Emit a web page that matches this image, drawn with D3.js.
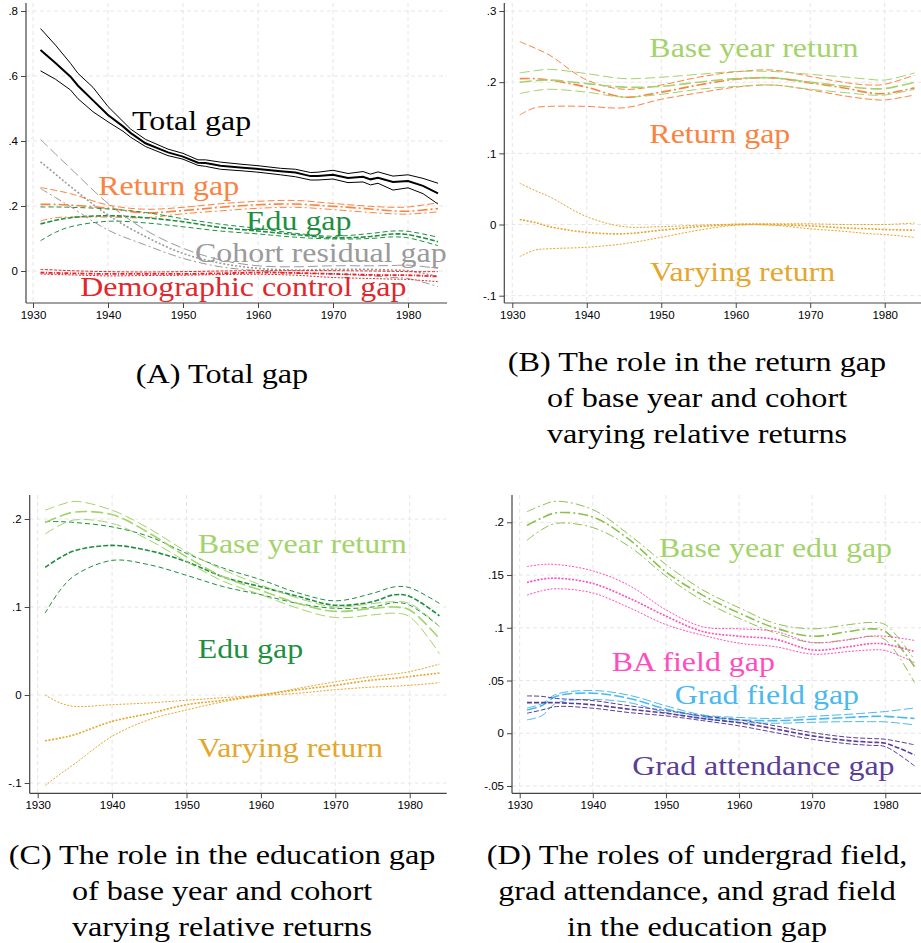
<!DOCTYPE html>
<html>
<head>
<meta charset="utf-8">
<script src="https://cdn.jsdelivr.net/npm/d3@7"></script>
<style>
body{margin:0;background:#fff;}
svg{display:block;}
.serif{font-family:"Liberation Serif","DejaVu Serif","Noto Serif",serif;}
.sans{font-family:"Liberation Sans",Arial,sans-serif;}
</style>
</head>
<body>
<div id="svgDiv"></div>
<script>
// cohort grid shared by the smoothed series
var years = [1931,1933,1935,1940,1945,1950,1955,1960,1965,1970,1975,1978,1980,1984];
// total gap is plotted on a finer grid (it wiggles)
var yearsTotal = [1931,1933,1935,1936,1938,1940,1942,1943,1945,1948,1950,1952,1953,1955,1958,1960,1963,1965,1967,1968,1970,1972,1974,1975,1976,1978,1980,1982,1984];

var xTicks = [1930,1940,1950,1960,1970,1980];
var yTicksA = [0,0.2,0.4,0.6,0.8];
var yTicksB = [-0.1,0,0.1,0.2,0.3];
var yTicksC = [-0.1,0,0.1,0.2];
var yTicksD = [-0.05,0,0.05,0.1,0.15,0.2];

// (A) total gap
var totalHi  = [.746,.695,.639,.608,.565,.506,.460,.437,.405,.375,.362,.342,.342,.335,.328,.324,.316,.313,.303,.304,.310,.300,.306,.298,.305,.292,.296,.285,.270];
var totalMid = [.680,.640,.598,.570,.525,.480,.445,.425,.393,.365,.352,.333,.332,.324,.318,.314,.307,.303,.292,.292,.296,.286,.290,.282,.287,.274,.277,.262,.239];
var totalLo  = [.616,.590,.557,.530,.490,.459,.430,.412,.383,.355,.344,.325,.322,.313,.308,.304,.296,.290,.280,.280,.283,.272,.274,.265,.270,.249,.256,.238,.206];

var cohortHi  = [.405,.360,.316,.208,.126,.070,.034,.016,.013,.016,.016,.017,.018,.008];
var cohortMid = [.336,.298,.260,.172,.106,.054,.024,.008,.003,.005,.005,.003,.001,-.017];
var cohortLo  = [.254,.226,.198,.126,.080,.039,.013,.001,-.007,-.009,-.015,-.020,-.023,-.048];

var demogHi  = [.005,.003,.001,-.002,-.003,-.002,0,.001,.001,.001,0,-.001,-.002,-.002];
var demogMid = [-.005,-.006,-.007,-.009,-.009,-.009,-.007,-.005,-.006,-.009,-.012,-.013,-.013,-.017];
var demogLo  = [-.009,-.011,-.012,-.015,-.014,-.013,-.011,-.010,-.013,-.020,-.023,-.025,-.026,-.033];

// (A)+(B) return gap
var returnHi  = [.257,.248,.238,.203,.190,.196,.207,.2145,.217,.208,.199,.196,.197,.210];
var returnMid = [.205,.205,.203,.193,.179,.186,.196,.204,.206,.199,.191,.185,.184,.192];
var returnLo  = [.154,.164,.166,.166,.164,.176,.185,.193,.196,.189,.180,.176,.175,.182];

// (B) base year return, varying return
var baseRetHi  = [.213,.216,.218,.212,.205,.207,.211,.215,.215,.211,.207,.204,.203,.213];
var baseRetMid = [.200,.202,.203,.198,.193,.194,.200,.205,.206,.200,.194,.191,.191,.200];
var baseRetLo  = [.184,.188,.190,.186,.179,.183,.190,.194,.196,.190,.185,.182,.182,.190];

var varRetHi  = [.058,.048,.039,.011,-.003,-.003,-.001,.0005,.001,.001,0,0,0,.002];
var varRetMid = [.007,.003,-.003,-.011,-.013,-.008,-.003,0,0,-.002,-.005,-.006,-.007,-.008];
var varRetLo  = [-.045,-.036,-.034,-.032,-.027,-.018,-.008,-.001,-.001,-.006,-.010,-.013,-.014,-.018];

// (A)+(C) edu gap
var eduHi  = [.197,.197,.196,.191,.180,.161,.144,.131,.116,.107,.1155,.123,.122,.104];
var eduMid = [.145,.156,.164,.170,.164,.1515,.134,.123,.112,.102,.106,.114,.112,.090];
var eduLo  = [.093,.119,.136,.153,.148,.136,.123,.114,.104,.0985,.100,.105,.102,.078];

// (C) base year return, varying return
var baseEduRetHi  = [.210,.216,.220,.210,.189,.163,.142,.125,.110,.100,.104,.106,.104,.078];
var baseEduRetMid = [.196,.203,.208,.205,.184,.157,.134,.119,.104,.095,.0985,.100,.0966,.064];
var baseEduRetLo  = [.183,.193,.199,.195,.176,.1515,.129,.114,.0985,.088,.091,.093,.089,.047];

var varEduHi  = [0,-.009,-.013,-.011,-.009,-.006,-.003,0,.0076,.015,.021,.024,.0265,.035];
var varEduMid = [-.052,-.049,-.045,-.030,-.021,-.011,-.006,0,.006,.011,.017,.019,.021,.025];
var varEduLo  = [-.103,-.090,-.078,-.047,-.028,-.017,-.0076,-.001,.002,.006,.009,.010,.011,.014];

// (D) base year edu gap, BA field, grad field, grad attendance
var baseEduHi  = [.210,.216,.220,.212,.188,.160,.136,.119,.104,.099,.103,.105,.103,.0696];
var baseEduMid = [.197,.204,.209,.205,.1835,.153,.131,.114,.0997,.092,.0965,.099,.0965,.063];
var baseEduLo  = [.183,.193,.199,.195,.177,.149,.126,.109,.095,.086,.089,.092,.0886,.048];

var baHi  = [.158,.160,.160,.154,.140,.117,.101,.099,.0965,.086,.0886,.092,.092,.088];
var baMid = [.143,.146,.147,.142,.128,.111,.0965,.092,.089,.079,.082,.085,.0845,.0775];
var baLo  = [.131,.135,.137,.133,.119,.103,.093,.0854,.082,.075,.0775,.079,.0785,.067];

var gradFieldHi  = [.024,.028,.037,.0405,.036,.026,.0174,.015,.014,.016,.018,.0195,.0206,.024];
var gradFieldMid = [.022,.026,.035,.038,.033,.023,.016,.0127,.012,.0133,.015,.016,.016,.014];
var gradFieldLo  = [.0127,.0165,.0285,.032,.029,.0196,.014,.0104,.0095,.0104,.011,.011,.0108,.008];

var gradAttHi  = [.0354,.035,.033,.031,.026,.0215,.0165,.0127,.007,.0006,-.0038,-.005,-.0057,-.011];
var gradAttMid = [.029,.029,.029,.027,.0228,.019,.014,.010,.004,-.0025,-.007,-.0085,-.0095,-.0206];
var gradAttLo  = [.019,.022,.0253,.0237,.0196,.0165,.012,.007,.0006,-.0057,-.010,-.0115,-.0127,-.031];

// colours
var cBlack = "#000000", cOrange = "#fc8240", cGreen = "#1e8f3e", cGray = "#9a9a9a",
    cRed = "#e3262b", cLight = "#a3d36b", cGold = "#e5a62c", cPink = "#ff4dbe",
    cBlue = "#4bb9ef", cPurple = "#5b3d98", cBaseEdu = "#8cc150";

var W = 921, H = 943;
var svg = d3.select("#svgDiv").append("svg")
            .attr("width", W).attr("height", H);

var panels = [
  { id:"A", left:26, right:447, top:3, bottom:303, xr:[33,408], yd:[0,0.8], yr:[271,11], yTicks:yTicksA,
    series:[
      {x:yearsTotal, ys:[totalHi,totalMid,totalLo], color:cBlack, dash:[null,null,null], w:[1,2,1], curve:d3.curveLinear},
      {x:years, ys:[returnHi,returnMid,returnLo], color:cOrange, dash:["7,3","10,3,2,3","7,3,2,3"], w:[1,1.6,1]},
      {x:years, ys:[eduHi,eduMid,eduLo], color:cGreen, dash:["5,3","5,2","5,3"], w:[1,1.6,1]},
      {x:years, ys:[cohortHi,cohortMid,cohortLo], color:cGray, dash:["10,4","2,2","8,3,2,3"], w:[1,1.6,1]},
      {x:years, ys:[demogHi,demogMid,demogLo], color:cRed, dash:["3,1.5","4,1.5,1,1.5","2,1.5"], w:[1,1.8,1]}
    ],
    labels:[
      {t:"Total gap", x:1943.2, y:0.435, c:cBlack},
      {t:"Return gap", x:1938.7, y:0.234, c:cOrange},
      {t:"Edu gap", x:1958.4, y:0.126, c:cGreen},
      {t:"Cohort residual gap", x:1951.6, y:0.029, c:cGray},
      {t:"Demographic control gap", x:1936.3, y:-0.077, c:cRed}
    ]},
  { id:"B", left:504.3, right:921, top:3, bottom:303, xr:[512.3,884.7], yd:[-0.1,0.3], yr:[295.7,11], yTicks:yTicksB,
    series:[
      {x:years, ys:[returnHi,returnMid,returnLo], color:cOrange, dash:["7,3","10,3,2,3","7,3"], w:[1,1.6,1]},
      {x:years, ys:[baseRetHi,baseRetMid,baseRetLo], color:cLight, dash:["10,4","12,4","10,4"], w:[1,1.6,1]},
      {x:years, ys:[varRetHi,varRetMid,varRetLo], color:cGold, dash:["2,1.5","2,1.5","2,1.5"], w:[1,1.6,1]}
    ],
    labels:[
      {t:"Base year return", x:1948.4, y:0.235, c:cLight},
      {t:"Return gap", x:1948.4, y:0.1145, c:cOrange},
      {t:"Varying return", x:1948.5, y:-0.0795, c:cGold}
    ]},
  { id:"C", left:29.7, right:446.7, top:495, bottom:793.3, xr:[37.7,409.7], yd:[-0.1,0.2], yr:[783,519], yTicks:yTicksC,
    series:[
      {x:years, ys:[eduHi,eduMid,eduLo], color:cGreen, dash:["5,3","5,2","5,3"], w:[1,1.6,1]},
      {x:years, ys:[baseEduRetHi,baseEduRetMid,baseEduRetLo], color:cLight, dash:["10,4","12,4","10,4"], w:[1,1.6,1]},
      {x:years, ys:[varEduHi,varEduMid,varEduLo], color:cGold, dash:["2,1.5","2,1.5","2,1.5"], w:[1,1.6,1]}
    ],
    labels:[
      {t:"Base year return", x:1951.5, y:0.1617, c:cLight},
      {t:"Edu gap", x:1951.5, y:0.0424, c:cGreen},
      {t:"Varying return", x:1951.5, y:-0.070, c:cGold}
    ]},
  { id:"D", left:512, right:921, top:495, bottom:793.3, xr:[519.7,885.3], yd:[-0.05,0.2], yr:[786,522.3], yTicks:yTicksD,
    series:[
      {x:years, ys:[baseEduHi,baseEduMid,baseEduLo], color:cBaseEdu, dash:["9,3,2,3","10,3,2,3","9,3,2,3"], w:[1,1.6,1]},
      {x:years, ys:[baHi,baMid,baLo], color:cPink, dash:["2,1.5","2,1.5","2,1.5"], w:[1,1.6,1]},
      {x:years, ys:[gradFieldHi,gradFieldMid,gradFieldLo], color:cBlue, dash:["9,3","10,3","9,3"], w:[1,1.6,1]},
      {x:years, ys:[gradAttHi,gradAttMid,gradAttLo], color:cPurple, dash:["5,2","5,2","5,2"], w:[1,1.6,1]}
    ],
    labels:[
      {t:"Base year edu gap", x:1949.05, y:0.167, c:cLight},
      {t:"BA field gap", x:1942.6, y:0.0591, c:cPink},
      {t:"Grad field gap", x:1951.2, y:0.0275, c:cBlue},
      {t:"Grad attendance gap", x:1945.4, y:-0.0396, c:cPurple}
    ]}
];

function fmtTick(v){
  if (v === 0) return "0";
  return String(+v.toFixed(3)).replace(/^(-?)0\./, "$1.");
}

function drawPanel(p){
  var g = svg.append("g").attr("id", "panel" + p.id);
  var x = d3.scaleLinear().domain([1930,1980]).range(p.xr);
  var y = d3.scaleLinear().domain(p.yd).range(p.yr);

  //grid
  var grid = g.append("g").attr("class","grid")
              .attr("stroke","#e6e6e6").attr("stroke-width",1).attr("stroke-dasharray","4,3");
  grid.selectAll("line.h").data(p.yTicks).enter().append("line")
      .attr("x1", p.left).attr("x2", p.right)
      .attr("y1", function(d){ return y(d); }).attr("y2", function(d){ return y(d); });
  grid.selectAll("line.v").data(xTicks).enter().append("line")
      .attr("y1", p.top).attr("y2", p.bottom)
      .attr("x1", function(d){ return x(d); }).attr("x2", function(d){ return x(d); });

  //series: upper bound, estimate, lower bound
  p.series.forEach(function(s){
    var line = d3.line()
                 .x(function(d){ return x(d[0]); })
                 .y(function(d){ return y(d[1]); })
                 .curve(s.curve || d3.curveCatmullRom.alpha(0.5));
    s.ys.forEach(function(vals, i){
      g.append("path")
       .attr("d", line(s.x.map(function(yr, k){ return [yr, vals[k]]; })))
       .attr("fill","none")
       .attr("stroke", s.color)
       .attr("stroke-width", s.w[i])
       .attr("stroke-dasharray", s.dash[i]);
    });
  });

  //axes
  var yAxis = g.append("g").attr("transform","translate(" + p.left + ",0)")
               .call(d3.axisLeft(y).tickValues(p.yTicks).tickFormat(fmtTick).tickSize(5).tickPadding(3));
  var xAxis = g.append("g").attr("transform","translate(0," + p.bottom + ")")
               .call(d3.axisBottom(x).tickValues(xTicks).tickFormat(d3.format("d")).tickSize(5).tickPadding(3));
  [yAxis, xAxis].forEach(function(a){
    a.attr("font-family", null).attr("font-size", null).attr("class","sans");
    a.select(".domain").remove();
    a.selectAll(".tick line").attr("stroke","#444");
    a.selectAll(".tick text").style("font-size","11.5px").attr("fill","#000");
  });
  g.append("line").attr("x1", p.left).attr("x2", p.left).attr("y1", p.top).attr("y2", p.bottom)
   .attr("stroke","#444").attr("stroke-width",1.2);
  g.append("line").attr("x1", p.left).attr("x2", p.right).attr("y1", p.bottom).attr("y2", p.bottom)
   .attr("stroke","#444").attr("stroke-width",1.2);

  //in-plot labels (Computer Modern look: serif stretched a bit)
  g.selectAll("text.lab").data(p.labels).enter().append("text")
   .attr("class","lab serif")
   .attr("transform", function(d){ return "translate(" + x(d.x) + "," + y(d.y) + ") scale(1.14,1)"; })
   .style("font-size","28px")
   .attr("fill", function(d){ return d.c; })
   .text(function(d){ return d.t; });
}

panels.forEach(drawPanel);

//captions
var captions = [
  {cx:222, y:[383], lines:["(A) Total gap"]},
  {cx:697, y:[371,407,443], lines:["(B) The role in the return gap","of base year and cohort","varying relative returns"]},
  {cx:222, y:[864,900,936], lines:["(C) The role in the education gap","of base year and cohort","varying relative returns"]},
  {cx:697, y:[864,900,936], lines:["(D) The roles of undergrad field,","grad attendance, and grad field","in the education gap"]}
];
captions.forEach(function(c){
  c.lines.forEach(function(t, i){
    svg.append("text")
       .attr("class","serif")
       .attr("transform","translate(" + c.cx + "," + c.y[i] + ") scale(1.15,1)")
       .attr("text-anchor","middle")
       .style("font-size","28px")
       .attr("fill","#000")
       .text(t);
  });
});
</script>
</body>
</html>
